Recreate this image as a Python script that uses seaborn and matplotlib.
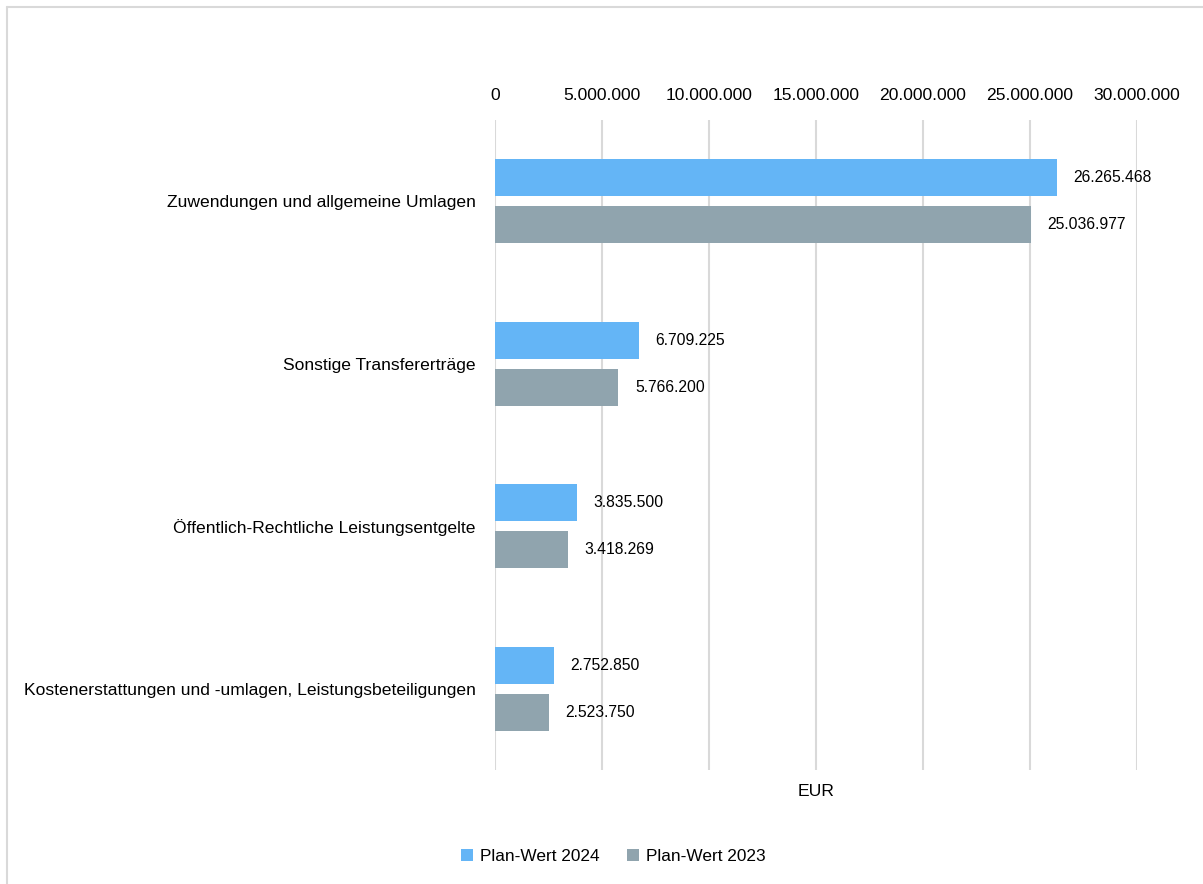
import matplotlib
matplotlib.use("Agg")
import matplotlib.pyplot as plt
import matplotlib.ticker as mticker
from matplotlib.lines import Line2D
from matplotlib.patches import Patch
import seaborn as sns
import pandas as pd

categories = [
    "Zuwendungen und allgemeine Umlagen",
    "Sonstige Transfererträge",
    "Öffentlich-Rechtliche Leistungsentgelte",
    "Kostenerstattungen und -umlagen, Leistungsbeteiligungen",
]
series_names = ["Plan-Wert 2024", "Plan-Wert 2023"]
values_2024 = [26265468, 6709225, 3835500, 2752850]
values_2023 = [25036977, 5766200, 3418269, 2523750]
colors = ["#64B5F6", "#90A4AE"]
x_label = "EUR"

sns.set_theme(style="white")
plt.rcParams["font.family"] = ["Liberation Sans", "DejaVu Sans"]
plt.rcParams["text.color"] = "#000000"
plt.rcParams["axes.labelcolor"] = "#000000"

df = pd.DataFrame({
    "cat": categories * 2,
    "value": values_2024 + values_2023,
    "series": [series_names[0]] * 4 + [series_names[1]] * 4,
})

def fmt(v):
    return f"{int(round(v)):,}".replace(",", ".")

fig = plt.figure(figsize=(12.03, 8.84), dpi=100)
ax = fig.add_axes([0.4115, 0.129, 0.5336, 0.7353])

sns.barplot(data=df, y="cat", x="value", hue="series", palette=colors,
            orient="h", width=0.578, gap=0.21, ax=ax, legend=False,
            saturation=1, errorbar=None, linewidth=0)

ax.set_xlim(0, 30000000)
ax.xaxis.set_major_locator(mticker.MultipleLocator(5000000))
ax.xaxis.set_major_formatter(mticker.FuncFormatter(lambda v, p: fmt(v)))
ax.xaxis.tick_top()
ax.tick_params(axis="x", length=0, pad=12, labelsize=12.6, colors="#000000")
ax.tick_params(axis="y", length=0, pad=14, labelsize=12.6, colors="#000000")
ax.grid(axis="x", color="#d9d9d9", linewidth=1.5)
ax.set_axisbelow(True)
for s in ax.spines.values():
    s.set_visible(False)
ax.set_ylabel("")
ax.set_xlabel(x_label, fontsize=12.6, labelpad=10, color="#000000")
ax.xaxis.set_label_position("bottom")

for cont in ax.containers:
    ax.bar_label(cont, labels=[fmt(b.get_width()) for b in cont],
                 padding=12, fontsize=11.3, color="#000000")

handles = [Patch(facecolor=c, edgecolor="none") for c in colors]
fig.legend(handles, series_names, loc="center", bbox_to_anchor=(0.51, 0.031),
           ncol=2, frameon=False, fontsize=12.4, handlelength=0.7,
           handleheight=0.7, handletextpad=0.4, columnspacing=1.6,
           labelcolor="#000000")

border = "#d9d9d9"
fig.add_artist(Line2D([6.5 / 1203, 6.5 / 1203], [0, 1 - 6.5 / 884],
                      transform=fig.transFigure, color=border, linewidth=1.5))
fig.add_artist(Line2D([6.5 / 1203, 1], [1 - 6.5 / 884, 1 - 6.5 / 884],
                      transform=fig.transFigure, color=border, linewidth=1.5))

fig.savefig("out.png", dpi=100)
